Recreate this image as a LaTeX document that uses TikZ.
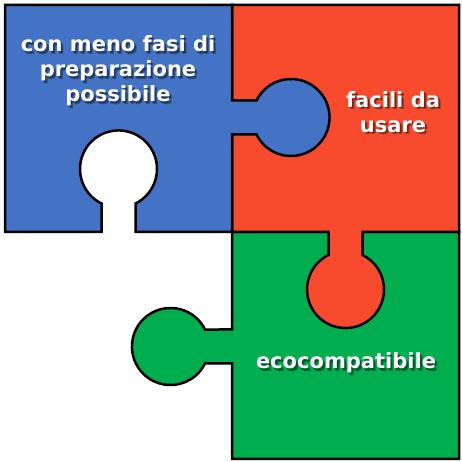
\documentclass[tikz,border=0pt]{standalone}
\usepackage{fontspec}
\setmainfont{DejaVu Sans}
\usetikzlibrary{calc}
\definecolor{pieceblue}{HTML}{4472C4}
\definecolor{piecered}{HTML}{F84A2C}
\definecolor{piecegreen}{HTML}{00AD4F}
\tikzset{
  piece/.style={draw=black, line width=2.5pt, line join=miter},
  puzzletext/.style={text=white, align=center, inner sep=0pt,
    font=\bfseries\fontsize{21}{25}\selectfont},
  puzzleshadow/.style={puzzletext, text=black, opacity=0.3},
}

\begin{document}
\begin{tikzpicture}[x=1pt, y=1pt]
  \useasboundingbox [fill=white] (0,0) rectangle (462,462);

  % green piece, knob to the left
  \fill [piecegreen, piece] (232,230) -- (459,230) -- (459,3) -- (232,3)
     -- (232,98.5) -- (205,98.5)
     arc [start angle=-26.2, end angle=-333.8, radius=38.5]
     -- (232,132.5) -- cycle; % Draws the green piece

  % red piece, knob going down
  \fill [piecered, piece] (232,457) -- (459,457) -- (459,230) -- (362.5,230)
     -- (362.5,207)
     arc [start angle=63.8, end angle=-243.8, radius=38.5]
     -- (328.5,230) -- (232,230) -- cycle; % Draws the red piece

  % blue piece, knob to the right and hole at the bottom
  \fill [pieceblue, piece] (5,457) -- (232,457) -- (232,361.5) -- (256.5,361.5)
     arc [start angle=153.8, end angle=-153.8, radius=38.5]
     -- (232,327.5) -- (232,230) -- (135.5,230) -- (135.5,258.5)
     arc [start angle=-63.8, end angle=243.8, radius=38.5]
     -- (101.5,230) -- (5,230) -- cycle; % Draws the blue piece

  % labels with their shadow
  \foreach \dx/\dy in {1.5/-1.5, 2.5/-2.5} {
    \node [puzzleshadow] (blue shadow) at (118+\dx,391+\dy) {con meno fasi di\\preparazione\\possibile};
    \node [puzzleshadow] (red shadow) at (393+\dx,350+\dy) {facili da\\usare};
    \node [puzzleshadow] (green shadow) at (346+\dx,99+\dy) {ecocompatibile};
  }
  \node [puzzletext] (blue text) at (118,391) {con meno fasi di\\preparazione\\possibile};
  \node [puzzletext] (red text) at (393,350) {facili da\\usare};
  \node [puzzletext] (green text) at (346,99) {ecocompatibile};
\end{tikzpicture}
\end{document}
